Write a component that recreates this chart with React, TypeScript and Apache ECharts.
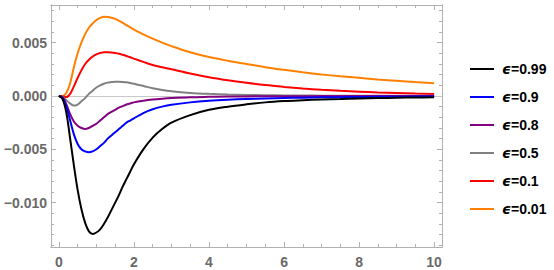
import React, { useEffect, useRef } from "react";
import * as echarts from "echarts";

const T = [0, 0.1, 0.2, 0.3, 0.4, 0.5, 0.6, 0.7, 0.8, 0.9, 1.0, 1.1, 1.2, 1.3, 1.4, 1.5, 1.6, 1.7, 1.8, 1.9, 2.0, 2.25, 2.5, 2.75, 3, 3.5, 4, 4.5, 5, 5.5, 6, 6.5, 7, 7.5, 8, 8.5, 9, 9.5, 10];

const e099 = [0, -0.0003, -0.0016, -0.004, -0.0065, -0.0088, -0.0106, -0.0119, -0.0127, -0.01294, -0.0128, -0.0125, -0.012, -0.0114, -0.0107, -0.01, -0.0093, -0.0085, -0.0078, -0.0071, -0.0064, -0.005, -0.0039, -0.0031, -0.0025, -0.0018, -0.0013, -0.001, -0.00078, -0.0006, -0.00048, -0.0004, -0.00033, -0.00028, -0.00023, -0.0002, -0.00017, -0.00014, -0.00012];
const e09 = [0, -0.0002, -0.001, -0.0023, -0.0036, -0.0045, -0.005, -0.0052, -0.00528, -0.0052, -0.005, -0.0047, -0.0044, -0.004, -0.0037, -0.0034, -0.0031, -0.0028, -0.0025, -0.0023, -0.0021, -0.0016, -0.00125, -0.001, -0.00082, -0.0006, -0.00045, -0.00035, -0.00028, -0.00023, -0.00019, -0.00016, -0.00013, -0.00011, -0.0001, -0.00008, -0.00007, -0.00006, -0.00005];
const e08 = [0, -0.0001, -0.0008, -0.0017, -0.0024, -0.0028, -0.003, -0.0031, -0.003, -0.0028, -0.0026, -0.0023, -0.002, -0.0017, -0.0015, -0.0013, -0.0011, -0.00095, -0.0008, -0.0007, -0.0006, -0.00045, -0.00034, -0.00026, -0.0002, -0.00012, -0.00008, -0.00005, -0.00004, -0.00003, -0.00002, -0.00002, -0.00001, -0.00001, -0.00001, 0, 0, 0, 0];
const e05 = [0, -0.0001, -0.0004, -0.0007, -0.0009, -0.0008, -0.0005, -0.0002, 0.0002, 0.0005, 0.0008, 0.001, 0.00115, 0.00125, 0.0013, 0.00134, 0.00134, 0.00132, 0.00128, 0.00122, 0.00115, 0.00094, 0.00072, 0.00056, 0.00044, 0.00029, 0.0002, 0.00014, 0.0001, 0.00007, 0.00005, 0.00004, 0.00003, 0.00002, 0.00002, 0.00001, 0.00001, 0.00001, 0.00001];
const e01 = [0, -0.00005, -0.0001, 0.0002, 0.0009, 0.0017, 0.0024, 0.003, 0.0034, 0.0037, 0.0039, 0.00403, 0.0041, 0.0041, 0.00408, 0.00403, 0.00396, 0.00386, 0.00375, 0.00363, 0.0035, 0.0032, 0.0029, 0.0027, 0.0025, 0.0021, 0.00175, 0.00147, 0.00123, 0.00102, 0.00085, 0.0007, 0.00058, 0.00048, 0.0004, 0.00033, 0.00028, 0.00023, 0.00019];
const e001 = [0, 0, 0.0003, 0.0012, 0.0027, 0.004, 0.005, 0.0058, 0.0064, 0.0068, 0.00712, 0.00732, 0.00742, 0.0074, 0.00734, 0.00723, 0.00705, 0.00686, 0.00665, 0.00644, 0.00623, 0.00578, 0.00537, 0.005, 0.00467, 0.0041, 0.00365, 0.0033, 0.003, 0.0027, 0.00245, 0.00222, 0.00202, 0.00185, 0.0017, 0.00155, 0.00142, 0.0013, 0.0012];

const names = ["ϵ=0.99", "ϵ=0.9", "ϵ=0.8", "ϵ=0.5", "ϵ=0.1", "ϵ=0.01"];
const colors = ["#000000", "#0000ff", "#800080", "#808080", "#ff0000", "#ff8000"];
const values = [e099, e09, e08, e05, e01, e001];

const xMajor = [0, 2, 4, 6, 8, 10];
const xMinor = [0.5, 1, 1.5, 2.5, 3, 3.5, 4.5, 5, 5.5, 6.5, 7, 7.5, 8.5, 9, 9.5];
const yMajor = [-0.01, -0.005, 0, 0.005];
const yMinor = [-0.014, -0.013, -0.012, -0.011, -0.009, -0.008, -0.007, -0.006, -0.004, -0.003, -0.002, -0.001, 0.001, 0.002, 0.003, 0.004, 0.006, 0.007, 0.008];

const X_MIN = -0.21;
const X_MAX = 10.21;
const Y_MIN = -0.01416;
const Y_MAX = 0.00853;

const FRAME = "#b0b0b0";
const LABEL = "#6a6a6a";

export default function App() {
  const ref = useRef<HTMLDivElement>(null);
  useEffect(() => {
    if (!ref.current) return;
    const chart = echarts.init(ref.current, null, { renderer: "svg" });
    const fmtY = (v: number) => {
      const s = Math.abs(v).toFixed(3);
      return v < -1e-9 ? "\u2212" + s : s;
    };
    const mkX = (pos: string, major: boolean, labels: boolean) => ({
      type: "value",
      position: pos,
      min: X_MIN,
      max: X_MAX,
      axisLine: { show: true, onZero: false, lineStyle: { color: FRAME, width: 1 } },
      axisTick: {
        show: true,
        inside: true,
        length: major ? 5 : 3,
        customValues: major ? xMajor : xMinor,
        lineStyle: { color: FRAME },
      },
      axisLabel: labels
        ? { show: true, customValues: xMajor, color: LABEL, fontWeight: "bold", fontSize: 14, fontFamily: "Liberation Sans, Arial, sans-serif", margin: 8 }
        : { show: false },
      splitLine: { show: false },
    });
    const mkY = (pos: string, major: boolean, labels: boolean) => ({
      type: "value",
      position: pos,
      min: Y_MIN,
      max: Y_MAX,
      axisLine: { show: true, onZero: false, lineStyle: { color: FRAME, width: 1 } },
      axisTick: {
        show: true,
        inside: true,
        length: major ? 5 : 3,
        customValues: major ? yMajor : yMinor,
        lineStyle: { color: FRAME },
      },
      axisLabel: labels
        ? { show: true, customValues: yMajor, formatter: fmtY, color: LABEL, fontWeight: "bold", fontSize: 14, fontFamily: "Liberation Sans, Arial, sans-serif", margin: 4 }
        : { show: false },
      splitLine: { show: false },
    });
    const series: any[] = values.map((vals, i) => ({
      type: "line",
      name: names[i],
      data: T.map((t, j) => [t, vals[j]]),
      xAxisIndex: 0,
      yAxisIndex: 0,
      smooth: 0.35,
      showSymbol: false,
      symbol: "none",
      lineStyle: { color: colors[i], width: 2 },
      itemStyle: { color: colors[i] },
      z: 10 - i,
    }));
    series[0].markLine = {
      silent: true,
      symbol: "none",
      label: { show: false },
      lineStyle: { color: "#c8c8c8", width: 1, type: "solid" },
      data: [{ yAxis: 0 }],
      z: 1,
    };
    chart.setOption({
      animation: false,
      backgroundColor: "#ffffff",
      grid: { left: 51, right: 112, top: 5, bottom: 23, show: false },
      xAxis: [mkX("bottom", true, true), mkX("bottom", false, false), mkX("top", true, false), mkX("top", false, false)],
      yAxis: [mkY("left", true, true), mkY("left", false, false), mkY("right", true, false), mkY("right", false, false)],
      legend: {
        orient: "vertical",
        left: 465,
        top: 56,
        itemWidth: 24,
        itemHeight: 2,
        itemGap: 12,
        icon: "rect",
        data: names,
        textStyle: {
          color: "#000",
          fontSize: 14,
          fontWeight: "bold",
          fontFamily: "Liberation Sans, Arial, sans-serif",
          lineHeight: 16,
          rich: {
            e: { fontStyle: "italic", fontSize: 14, fontWeight: "bold", fontFamily: "DejaVu Sans, sans-serif", color: "#000", padding: [0, 0, 0, 3] },
            n: { fontSize: 14, fontWeight: "bold", fontFamily: "Liberation Sans, Arial, sans-serif", color: "#000" },
          },
        },
        formatter: (name: string) => `{e|ϵ}{n|${name.slice(1)}}`,
      },
      series,
    });
    return () => chart.dispose();
  }, []);
  return <div ref={ref} style={{ position: "fixed", left: 0, top: 0, width: 554, height: 270 }} />;
}
